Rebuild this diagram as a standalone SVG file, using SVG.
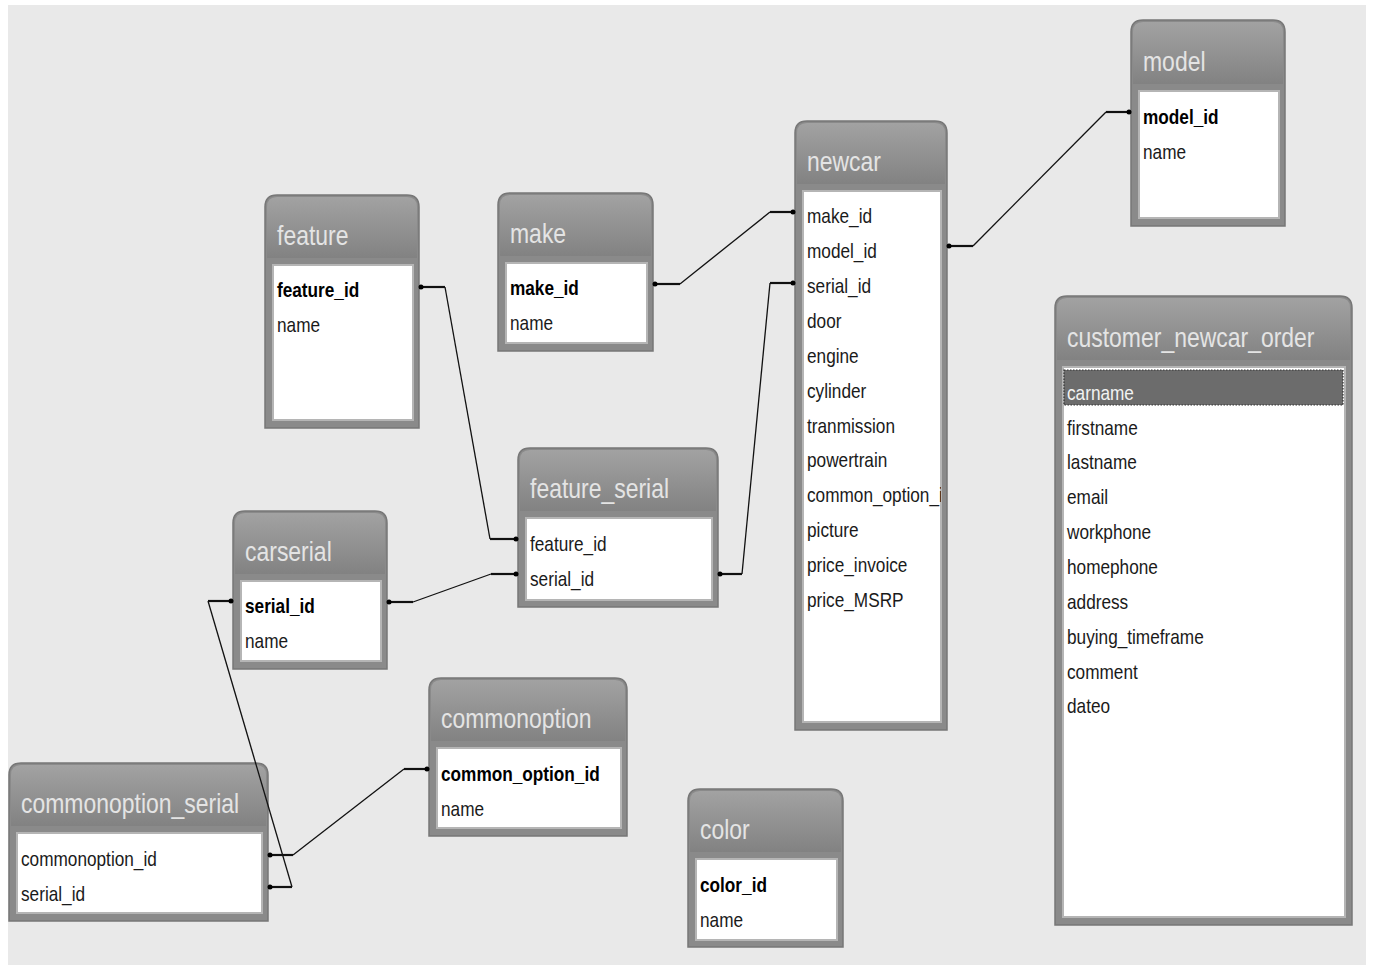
<svg xmlns="http://www.w3.org/2000/svg" width="1379" height="971" viewBox="0 0 1379 971">
<style>
.bg{fill:#e9e9e9}
.frame{fill:#8a8a8a;stroke:#777;stroke-width:1.5}
.hdr{fill:url(#hg)}
.body{fill:#fff;stroke:#b5b5b5;stroke-width:2}
.ht{font-family:"Liberation Sans",Arial,sans-serif;font-size:28px;fill:#e4e4e4}
.rt{font-family:"Liberation Sans",Arial,sans-serif;font-size:21px;fill:#1a1a1a}
.pk{font-weight:bold;fill:#000}
.sel{fill:#6c6c6c;stroke:#333;stroke-width:1.2;stroke-dasharray:1.5 1.5}
.selt{fill:#f2f2f2}
.conn{fill:none;stroke:#111;stroke-width:1.3}
.stub{fill:none;stroke:#111;stroke-width:2.2}
.dot{fill:#000}
</style>
<defs>
<linearGradient id="hg" x1="0" y1="0" x2="0" y2="1">
<stop offset="0" stop-color="#a2a2a2"/>
<stop offset="1" stop-color="#828282"/>
</linearGradient>
<clipPath id="ncclip"><rect x="803" y="191" width="138" height="531"/></clipPath>
</defs>
<rect x="0" y="0" width="1379" height="971" fill="#ffffff"/>
<rect class="bg" x="8" y="5" width="1358" height="960"/>

<g id="feature">
<path class="frame" d="M265,428 V207 Q265,195 277,195 H407 Q419,195 419,207 V428 Z"/>
<path class="hdr" d="M267,258 V207 Q267,197 277,197 H407 Q417,197 417,207 V258 Z"/>
<rect class="body" x="273" y="265" width="140" height="155"/>
<g transform="translate(277,0) scale(0.82,1)">
<text class="ht" x="0" y="245">feature</text>
<text class="rt pk" x="0" y="297">feature_id</text>
<text class="rt" x="0" y="332">name</text>
</g>
</g>

<g id="make">
<path class="frame" d="M498,351 V205 Q498,193 510,193 H641 Q653,193 653,205 V351 Z"/>
<path class="hdr" d="M500,256 V205 Q500,195 510,195 H641 Q651,195 651,205 V256 Z"/>
<rect class="body" x="506" y="263" width="141" height="80"/>
<g transform="translate(510,0) scale(0.82,1)">
<text class="ht" x="0" y="243">make</text>
<text class="rt pk" x="0" y="295">make_id</text>
<text class="rt" x="0" y="330">name</text>
</g>
</g>

<g id="newcar">
<path class="frame" d="M795,730 V133 Q795,121 807,121 H935 Q947,121 947,133 V730 Z"/>
<path class="hdr" d="M797,184 V133 Q797,123 807,123 H935 Q945,123 945,133 V184 Z"/>
<rect class="body" x="803" y="191" width="138" height="531"/>
<g transform="translate(807,0) scale(0.82,1)">
<text class="ht" x="0" y="171">newcar</text>
</g>
<g clip-path="url(#ncclip)">
<g transform="translate(807,0) scale(0.82,1)">
<text class="rt" x="0" y="223">make_id</text>
<text class="rt" x="0" y="258">model_id</text>
<text class="rt" x="0" y="293">serial_id</text>
<text class="rt" x="0" y="328">door</text>
<text class="rt" x="0" y="363">engine</text>
<text class="rt" x="0" y="398">cylinder</text>
<text class="rt" x="0" y="433">tranmission</text>
<text class="rt" x="0" y="467">powertrain</text>
<text class="rt" x="0" y="502">common_option_id</text>
<text class="rt" x="0" y="537">picture</text>
<text class="rt" x="0" y="572">price_invoice</text>
<text class="rt" x="0" y="607">price_MSRP</text>
</g>
</g>
</g>

<g id="model">
<path class="frame" d="M1131,226 V32 Q1131,20 1143,20 H1273 Q1285,20 1285,32 V226 Z"/>
<path class="hdr" d="M1133,84 V32 Q1133,22 1143,22 H1273 Q1283,22 1283,32 V84 Z"/>
<rect class="body" x="1139" y="91" width="140" height="127"/>
<g transform="translate(1143,0) scale(0.82,1)">
<text class="ht" x="0" y="71">model</text>
<text class="rt pk" x="0" y="124">model_id</text>
<text class="rt" x="0" y="159">name</text>
</g>
</g>

<g id="customer_newcar_order">
<path class="frame" d="M1055,925 V308 Q1055,296 1067,296 H1340 Q1352,296 1352,308 V925 Z"/>
<path class="hdr" d="M1057,360 V308 Q1057,298 1067,298 H1340 Q1350,298 1350,308 V360 Z"/>
<rect class="body" x="1063" y="367" width="282" height="550"/>
<rect class="sel" x="1064" y="370" width="279" height="35"/>
<g transform="translate(1067,0) scale(0.82,1)">
<text class="ht" x="0" y="347">customer_newcar_order</text>
<text class="rt selt" x="0" y="400">carname</text>
<text class="rt" x="0" y="435">firstname</text>
<text class="rt" x="0" y="469">lastname</text>
<text class="rt" x="0" y="504">email</text>
<text class="rt" x="0" y="539">workphone</text>
<text class="rt" x="0" y="574">homephone</text>
<text class="rt" x="0" y="609">address</text>
<text class="rt" x="0" y="644">buying_timeframe</text>
<text class="rt" x="0" y="679">comment</text>
<text class="rt" x="0" y="713">dateo</text>
</g>
</g>

<g id="feature_serial">
<path class="frame" d="M518,607 V460 Q518,448 530,448 H706 Q718,448 718,460 V607 Z"/>
<path class="hdr" d="M520,511 V460 Q520,450 530,450 H706 Q716,450 716,460 V511 Z"/>
<rect class="body" x="526" y="518" width="186" height="82"/>
<g transform="translate(530,0) scale(0.82,1)">
<text class="ht" x="0" y="498">feature_serial</text>
<text class="rt" x="0" y="551">feature_id</text>
<text class="rt" x="0" y="586">serial_id</text>
</g>
</g>

<g id="carserial">
<path class="frame" d="M233,669 V523 Q233,511 245,511 H375 Q387,511 387,523 V669 Z"/>
<path class="hdr" d="M235,574 V523 Q235,513 245,513 H375 Q385,513 385,523 V574 Z"/>
<rect class="body" x="241" y="581" width="140" height="80"/>
<g transform="translate(245,0) scale(0.82,1)">
<text class="ht" x="0" y="561">carserial</text>
<text class="rt pk" x="0" y="613">serial_id</text>
<text class="rt" x="0" y="648">name</text>
</g>
</g>

<g id="commonoption">
<path class="frame" d="M429,836 V690 Q429,678 441,678 H615 Q627,678 627,690 V836 Z"/>
<path class="hdr" d="M431,741 V690 Q431,680 441,680 H615 Q625,680 625,690 V741 Z"/>
<rect class="body" x="437" y="748" width="184" height="80"/>
<g transform="translate(441,0) scale(0.82,1)">
<text class="ht" x="0" y="728">commonoption</text>
<text class="rt pk" x="0" y="781">common_option_id</text>
<text class="rt" x="0" y="816">name</text>
</g>
</g>

<g id="commonoption_serial">
<path class="frame" d="M9,921 V775 Q9,763 21,763 H256 Q268,763 268,775 V921 Z"/>
<path class="hdr" d="M11,826 V775 Q11,765 21,765 H256 Q266,765 266,775 V826 Z"/>
<rect class="body" x="17" y="833" width="245" height="80"/>
<g transform="translate(21,0) scale(0.82,1)">
<text class="ht" x="0" y="813">commonoption_serial</text>
<text class="rt" x="0" y="866">commonoption_id</text>
<text class="rt" x="0" y="901">serial_id</text>
</g>
</g>

<g id="color">
<path class="frame" d="M688,947 V801 Q688,789 700,789 H831 Q843,789 843,801 V947 Z"/>
<path class="hdr" d="M690,852 V801 Q690,791 700,791 H831 Q841,791 841,801 V852 Z"/>
<rect class="body" x="696" y="859" width="141" height="81"/>
<g transform="translate(700,0) scale(0.82,1)">
<text class="ht" x="0" y="839">color</text>
<text class="rt pk" x="0" y="892">color_id</text>
<text class="rt" x="0" y="927">name</text>
</g>
</g>

<g id="connectors">
<path class="stub" d="M419,287 H445"/><path class="conn" d="M445,287 L490,539"/><path class="stub" d="M490,539 H518"/>
<circle class="dot" cx="421" cy="287" r="2.5"/><circle class="dot" cx="516" cy="539" r="2.5"/>
<path class="stub" d="M653,284 H680"/><path class="conn" d="M680,284 L770,212"/><path class="stub" d="M770,212 H795"/>
<circle class="dot" cx="655" cy="284" r="2.5"/><circle class="dot" cx="793" cy="212" r="2.5"/>
<path class="stub" d="M718,574 H742"/><path class="conn" d="M742,574 L770,283"/><path class="stub" d="M770,283 H795"/>
<circle class="dot" cx="720" cy="574" r="2.5"/><circle class="dot" cx="793" cy="283" r="2.5"/>
<path class="stub" d="M947,246 H973"/><path class="conn" d="M973,246 L1106,112"/><path class="stub" d="M1106,112 H1131"/>
<circle class="dot" cx="949" cy="246" r="2.5"/><circle class="dot" cx="1129" cy="112" r="2.5"/>
<path class="stub" d="M387,602 H413"/><path class="conn" d="M413,602 L491,574"/><path class="stub" d="M491,574 H518"/>
<circle class="dot" cx="389" cy="602" r="2.5"/><circle class="dot" cx="516" cy="574" r="2.5"/>
<path class="stub" d="M233,601 H208"/><path class="conn" d="M208,601 L292,887"/><path class="stub" d="M292,887 H268"/>
<circle class="dot" cx="231" cy="601" r="2.5"/><circle class="dot" cx="270" cy="887" r="2.5"/>
<path class="stub" d="M429,769 H404"/><path class="conn" d="M404,769 L293,855"/><path class="stub" d="M293,855 H268"/>
<circle class="dot" cx="427" cy="769" r="2.5"/><circle class="dot" cx="270" cy="855" r="2.5"/>
</g>
</svg>
